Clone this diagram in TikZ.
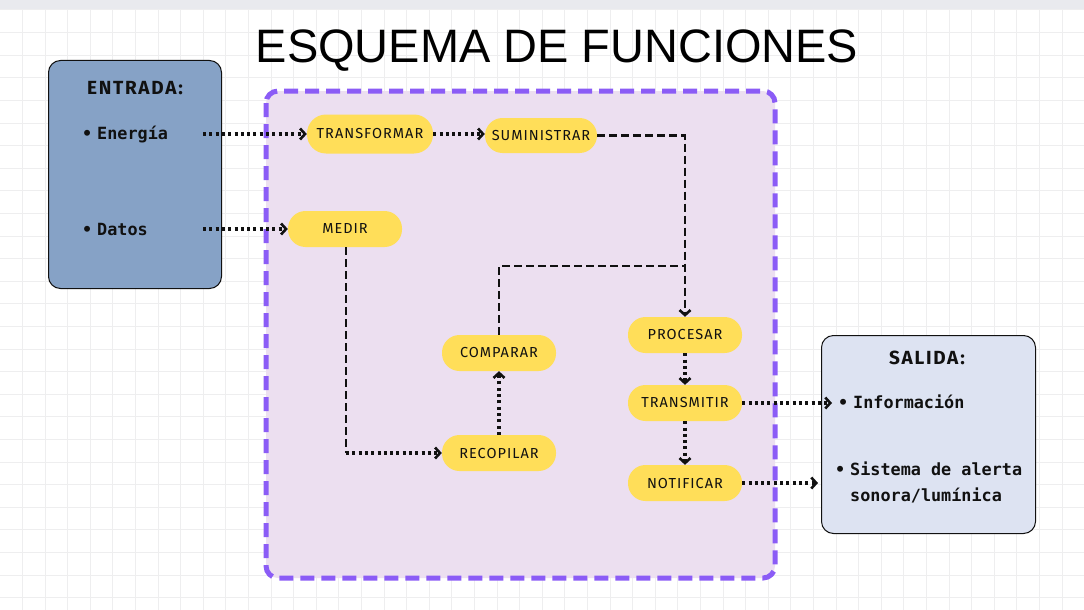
\documentclass[tikz,border=0pt]{standalone}
\usepackage{fontspec}
\setmainfont{Liberation Sans}
\newfontfamily\titlefont{Liberation Sans}
\newfontfamily\pillfont[LetterSpace=7]{Fira Sans}
\newfontfamily\headfont[LetterSpace=9]{Fira Sans}
\newfontfamily\itemfont{DejaVu Sans Mono}
\usetikzlibrary{arrows.meta}
\definecolor{gridc}{HTML}{EEEEEF}
\definecolor{bandc}{HTML}{E9EAEE}
\definecolor{inblue}{HTML}{86A2C6}
\definecolor{outblue}{HTML}{DDE3F2}
\definecolor{lilac}{HTML}{ECDFF0}
\definecolor{violet}{HTML}{8B5CF6}
\definecolor{pillc}{HTML}{FFDE59}
\definecolor{ink}{HTML}{111111}
\tikzset{
  pill/.style={fill=pillc, rounded corners=17.5pt, minimum width=114pt, minimum height=36pt,
    inner sep=0pt, font=\pillfont\fontsize{14.5}{16}\selectfont, text=ink},
  iobox/.style={draw=ink, line width=1pt, rounded corners=12pt},
  item/.style={anchor=base west, inner sep=0pt, font=\itemfont\fontsize{16.8}{26}\selectfont\bfseries, text=ink, align=left},
  head/.style={anchor=base, inner sep=0pt, font=\headfont\fontsize{19}{20}\selectfont\bfseries, text=ink},
  dotarrow/.style={draw=ink, line width=3.2pt, dash pattern=on 3pt off 3.3pt, -{Straight Barb[length=5pt,width=11pt,line width=2.6pt]}},
  dashline/.style={draw=ink, line width=2.6pt, dash pattern=on 8pt off 4pt},
  dasharrow/.style={dashline, -{Straight Barb[length=5pt,width=11pt,line width=2.6pt]}},
}
\begin{document}
\begin{tikzpicture}[x=1pt,y=-1pt]
\useasboundingbox (0,0) rectangle (1084,610);
\fill[white] (0,0) rectangle (1084,610);
\foreach \i in {0,...,48} {\draw[gridc, line width=1pt] (22.5+\i*22.6,0) -- (22.5+\i*22.6,610);}
\foreach \j in {0,...,27} {\draw[gridc, line width=1pt] (0,10+\j*22.6) -- (1084,10+\j*22.6);}
\fill[bandc] (0,0) rectangle (1084,9);

% title
\node[anchor=base, inner sep=0pt, font=\titlefont\fontsize{46}{50}\selectfont, text=black, xscale=1.02, yscale=1.02] (title) at (557,63) {ESQUEMA DE FUNCIONES};

% input box
\node[iobox, fill=inblue, minimum width=173pt, minimum height=228pt, anchor=north west, inner sep=0pt] (inbox) at (48,60) {};
\node[head] (inhead) at (135,95) {ENTRADA:};
\node[item] (energia) at (97,139) {\llap{•\hspace{5pt}}Energía};
\node[item] (datos) at (97,235) {\llap{•\hspace{5pt}}Datos};

% functions region
\draw[violet, fill=lilac, line width=5pt, rounded corners=12pt, dash pattern=on 14pt off 7pt]
  (266,91) rectangle (775,578);

% output box
\node[iobox, fill=outblue, minimum width=214pt, minimum height=198pt, anchor=north west, inner sep=0pt] (outbox) at (821,335) {};
\node[head] (outhead) at (927,364) {SALIDA:};
\node[item] (info) at (853,408) {\llap{•\hspace{5pt}}Información};
\node[item] (alerta) at (850,501) {\llap{•\hspace{5pt}}Sistema de alerta\\sonora/lumínica};

% pills
\node[pill, minimum width=126pt, minimum height=39pt, rounded corners=19pt] (transf) at (370,134) {TRANSFORMAR};
\node[pill, minimum width=112pt, minimum height=35pt] (sumin) at (541,135.5) {SUMINISTRAR};
\node[pill] (medir) at (345,229) {MEDIR};
\node[pill] (comp) at (499,353) {COMPARAR};
\node[pill] (recop) at (499,453) {RECOPILAR};
\node[pill] (proc) at (685,335) {PROCESAR};
\node[pill] (trans) at (685,403) {TRANSMITIR};
\node[pill] (notif) at (685,483) {NOTIFICAR};

% free ends
\coordinate (eStart) at (203,134);
\coordinate (dStart) at (203,229);
\coordinate (join) at (685,266);
\coordinate (corner) at (346,453);
\coordinate (infoEnd) at (832,403);
\coordinate (alertEnd) at (818,483);

% connectors
\draw[dotarrow] (eStart) -- (transf.west);
\draw[dotarrow] (dStart) -- (medir.west);
\draw[dotarrow] (transf.east) -- (transf.east -| sumin.west);
\draw[dasharrow] (sumin.east) -| (proc.north);
\draw[dashline] (comp.north) |- (join);
\draw[dashline] (medir.south -| corner) -- (corner);
\draw[dotarrow] (corner) -- (recop.west);
\draw[dotarrow] (recop.north) -- (comp.south);
\draw[dotarrow] (proc.south) -- (trans.north);
\draw[dotarrow] (trans.south) -- (notif.north);
\draw[dotarrow] (trans.east) -- (infoEnd);
\draw[dotarrow] (notif.east) -- (alertEnd);
\end{tikzpicture}
\end{document}
